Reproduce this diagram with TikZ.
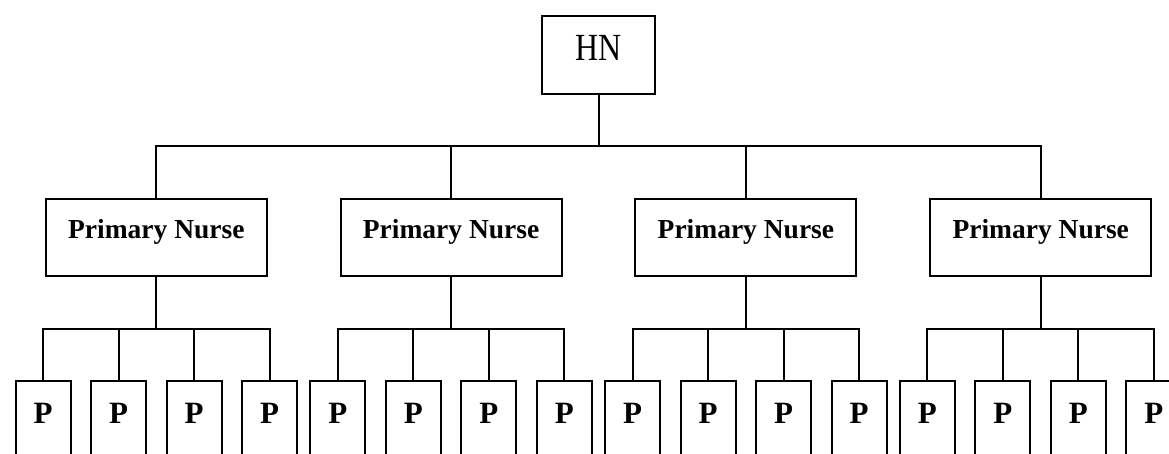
\documentclass[tikz,border=0pt]{standalone}
\usepackage{fontspec}
\setmainfont{Liberation Serif}

\begin{document}
\begin{tikzpicture}[
	x=1pt,y=1pt,
	line width=2pt,
	parent anchor=south,
	child anchor=north,
	edge from parent path={(\tikzparentnode\tikzparentanchor) -- +(0,-51.5) -| (\tikzchildnode\tikzchildanchor)},
	every node/.style={rectangle,draw,inner sep=0pt},
	hnbox/.style={minimum width=113pt,minimum height=78pt,text height=12pt,text depth=0pt,font=\fontsize{32}{34}\selectfont},
	pnbox/.style={minimum width=221pt,minimum height=77pt,text height=3pt,text depth=0pt,font=\fontsize{27.5}{30}\selectfont\bfseries},
	pbox/.style={minimum width=55pt,minimum height=100pt,text height=0pt,text depth=16pt,font=\fontsize{31}{33}\selectfont\bfseries},
	level 1/.style={level distance=182.5pt,sibling distance=294.8pt},
	level 2/.style={level distance=193.5pt,sibling distance=75.5pt}
	]
	\useasboundingbox (0,0) rectangle (1169,-454);
	\clip (0,0) rectangle (1169,-454);
	\node[hnbox] (hn) at (598.5,-55) {\scalebox{1}[1.2]{HN}}
	child foreach \j in {1,...,4} {node[pnbox] (pn\j) {Primary Nurse}
		child foreach \i in {1,...,4} {node[pbox] (p\j\i) {P}}
	};
\end{tikzpicture}
\end{document}
